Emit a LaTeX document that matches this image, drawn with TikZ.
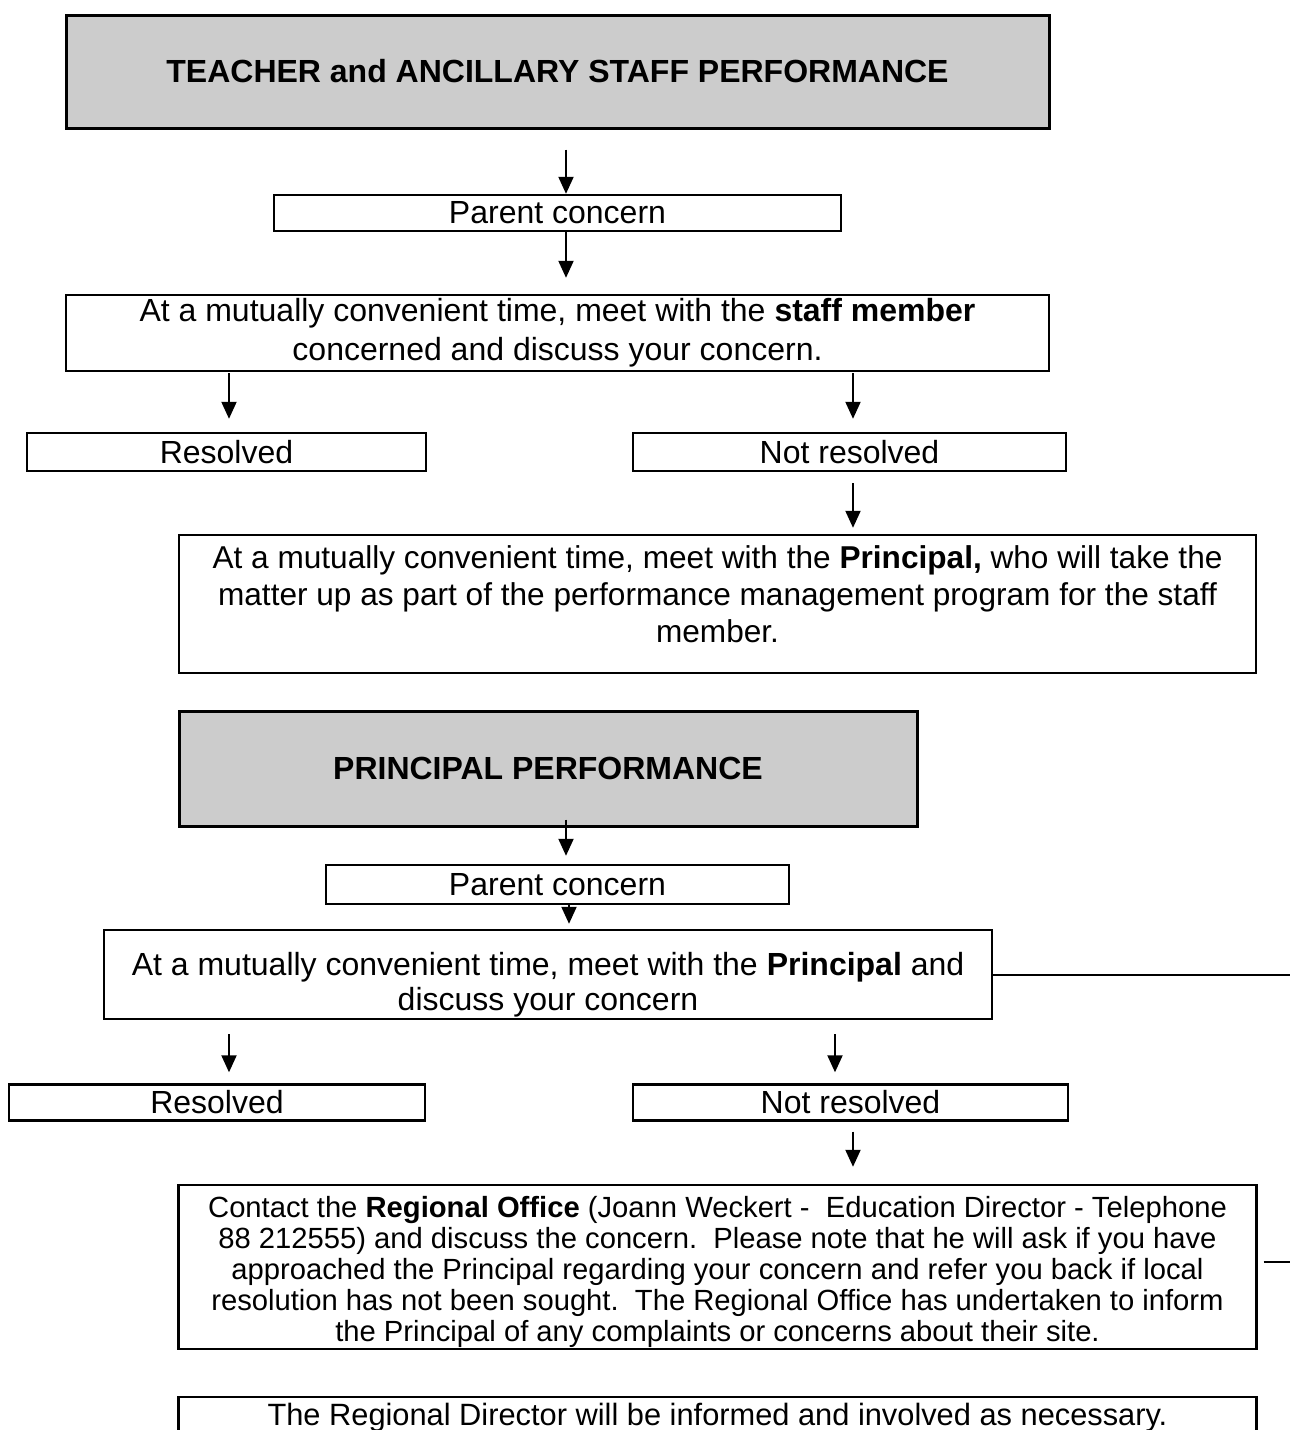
\documentclass[tikz,border=0pt]{standalone}
\usepackage{fontspec}
\setmainfont{Liberation Sans}
\usetikzlibrary{arrows.meta}

\begin{document}
\begin{tikzpicture}[x=0.5pt,y=-0.5pt,
	box/.style={draw, line width=1.2pt, align=center, inner sep=0pt, font=\fontsize{16}{18.5}\selectfont},
	head/.style={box, fill=gray!40, line width=1.5pt, font=\fontsize{16}{18.5}\selectfont\bfseries},
	arr/.style={-{Triangle[width=7.5pt,length=8.5pt]}, line width=1pt}]
	
	\useasboundingbox (0,0) rectangle (1290,1430);
	
	% arrow columns and right edge
	\coordinate (c1) at (566,0);
	\coordinate (c2) at (229,0);
	\coordinate (c3) at (853,0);
	\coordinate (c4) at (569,0);
	\coordinate (c5) at (835,0);
	\coordinate (edge) at (1290,0);
	
	% teacher and ancillary staff
	\node (h1)[head, minimum width=491.5pt, minimum height=56.5pt] at (557.5,71.5) {TEACHER and ANCILLARY STAFF PERFORMANCE};
	\node (pc1)[box, minimum width=283.5pt, minimum height=18pt] at (557.5,213) {Parent concern};
	\node (meet1)[box, minimum width=491.5pt, minimum height=38pt, font=\fontsize{16}{19.5}\selectfont] at (557.5,333) {At a mutually convenient time, meet with the \textbf{staff member}\\ concerned and discuss your concern.};
	\node (res1)[box, minimum width=199.5pt, minimum height=19pt] at (226.5,452) {Resolved};
	\node (nres1)[box, minimum width=216.5pt, minimum height=19pt] at (849.5,452) {Not resolved};
	\node (prin1)[box, minimum width=538.5pt, minimum height=69pt, font=\fontsize{15.8}{18.5}\selectfont] at (717.5,604) {At a mutually convenient time, meet with the \textbf{Principal,} who will take the\\ matter up as part of the performance management program for the staff\\ member.\\[-8.5pt]\mbox{}};
	
	\draw[arr, shorten <=10pt] (h1.south -| c1) -- (pc1.north -| c1);
	\draw[arr, shorten >=8pt] (pc1.south -| c1) -- (meet1.north -| c1);
	\draw[arr, shorten <=0.5pt, shorten >=6.5pt] (meet1.south -| c2) -- (res1.north -| c2);
	\draw[arr, shorten <=0.5pt, shorten >=6.5pt] (meet1.south -| c3) -- (nres1.north -| c3);
	\draw[arr, shorten <=5.5pt, shorten >=3pt] (nres1.south -| c3) -- (prin1.north -| c3);
	
	% principal
	\node (h2)[head, minimum width=369pt, minimum height=57.5pt] at (548,768.5) {PRINCIPAL PERFORMANCE};
	\node (pc2)[box, minimum width=231.5pt, minimum height=19.5pt] at (557.5,884.5) {Parent concern};
	\node (meet2)[box, minimum width=444pt, minimum height=44.5pt, font=\fontsize{16}{17.5}\selectfont] at (548,974.5) {\mbox{}\\[4pt]At a mutually convenient time, meet with the \textbf{Principal} and\\ discuss your concern};
	\node (res2)[box, minimum width=208pt, minimum height=18pt] at (217,1102.5) {Resolved};
	\node (nres2)[box, minimum width=217.5pt, minimum height=18pt] at (850.5,1102.5) {Not resolved};
	\node (reg)[box, minimum width=539pt, minimum height=82pt, font=\fontsize{14.6}{15.6}\selectfont] at (717.5,1267) {\mbox{}\\ Contact the \textbf{Regional Office} (Joann Weckert -\ \ Education Director - Telephone\\ 88 212555) and discuss the concern.\ \ Please note that he will ask if you have\\ approached the Principal regarding your concern and refer you back if local\\ resolution has not been sought.\ \ The Regional Office has undertaken to inform\\ the Principal of any complaints or concerns about their site.};
	\node (dir)[box, minimum width=539pt, minimum height=20pt, anchor=north, font=\fontsize{15.4}{18.5}\selectfont] at (717.5,1396) {The Regional Director will be informed and involved as necessary.};
	
	\draw[arr, shorten <=-4pt, shorten >=4pt] (h2.south -| c1) -- (pc2.north -| c1);
	\draw[arr, shorten >=2.5pt] (pc2.south -| c4) -- (meet2.north -| c4);
	\draw[arr, shorten <=7pt, shorten >=5.5pt] (meet2.south -| c2) -- (res2.north -| c2);
	\draw[arr, shorten <=7pt, shorten >=5.5pt] (meet2.south -| c5) -- (nres2.north -| c5);
	\draw[arr, shorten <=5pt, shorten >=8.5pt] (nres2.south -| c3) -- (reg.north -| c3);
	
	\draw[line width=1pt] (meet2.east) -- (meet2.east -| edge);
	\draw[line width=0.8pt, shorten <=3pt] ([yshift=2.5pt]reg.east) -- ([yshift=2.5pt]reg.east -| edge);
	
\end{tikzpicture}
\end{document}
